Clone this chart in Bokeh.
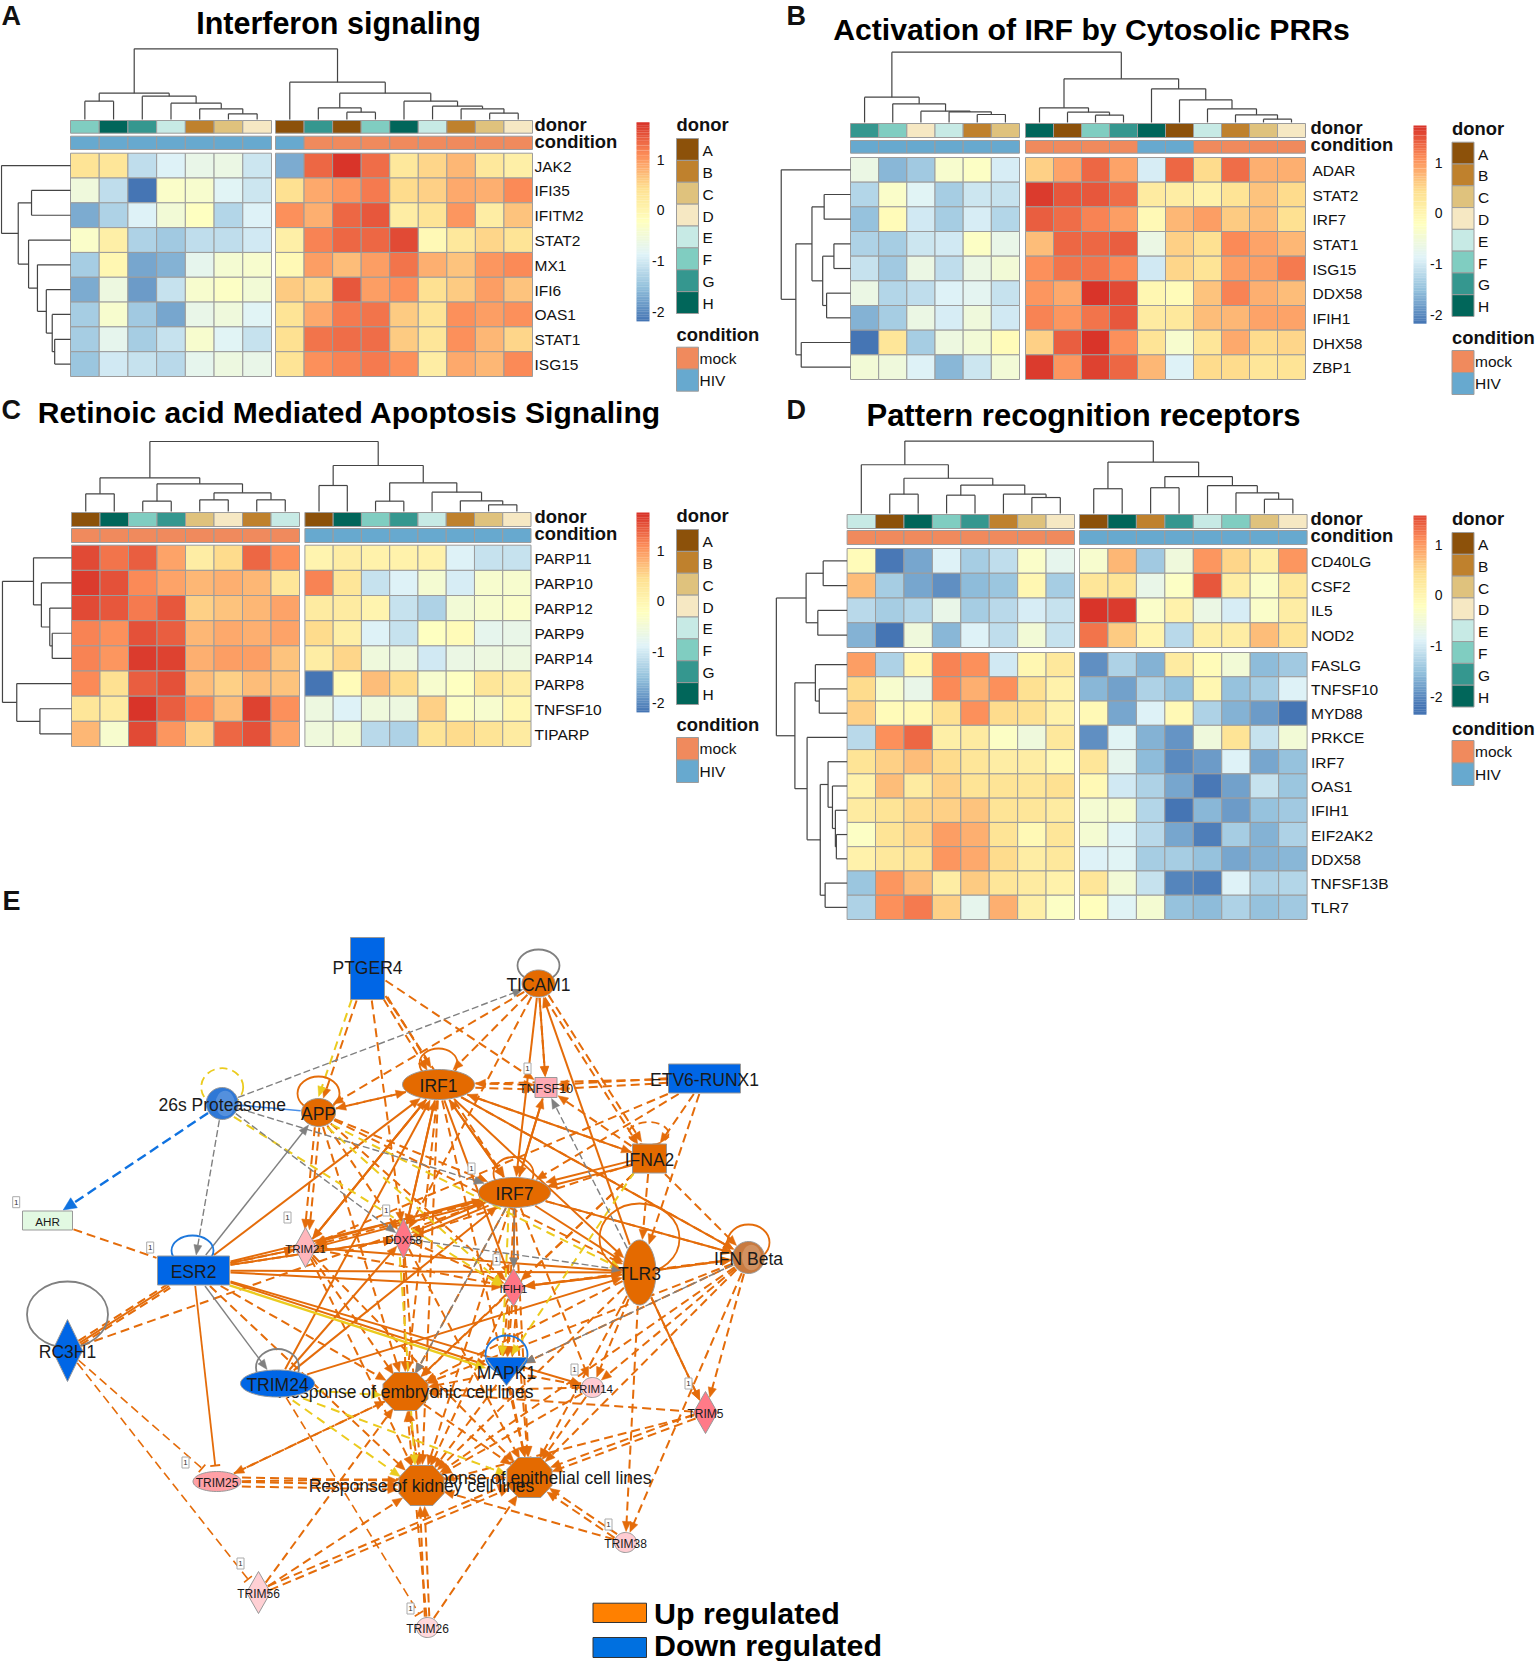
import numpy as np
from collections import Counter
from bokeh.plotting import figure
from bokeh.models import LinearColorMapper, ColumnDataSource
from bokeh.core.properties import value
from bokeh.embed import file_html
from bokeh.resources import INLINE

# ---------------------------------------------------------------- data
donor_levels = ["A", "B", "C", "D", "E", "F", "G", "H"]
donor_colors = ["#8C510A", "#BF812D", "#DFC27D", "#F6E8C3", "#C7EAE5", "#80CDC1", "#35978F", "#01665A"]
cond_levels = ["mock", "HIV"]
cond_colors = ["#F08A5D", "#67A9CF"]
cbar_ticks = [1, 0, -1, -2]

a_title = "Interferon signaling"
a_rows = ["JAK2", "IFI35", "IFITM2", "STAT2", "MX1", "IFI6", "OAS1", "STAT1", "ISG15"]
a_donor = list("FHGEBCD") + list("AGAFHEBCD")
a_cond = ["HIV"] * 8 + ["mock"] * 8
a_vals = [
    [.35, .3, -1.15, -.9, -.7, -.65, -1.05, -1.7, 1.35, 1.7, 1.3, .25, .5, .75, .25, .1],
    [-.55, -1.15, -2.2, -.35, -.4, -.85, -1.05, .4, .85, 1.0, 1.2, .45, .55, .85, .8, 1.1],
    [-1.7, -1.3, -.9, -.5, -.25, -1.25, -.9, 1.05, .8, 1.35, 1.45, .15, .35, 1.0, .15, .65],
    [-.35, .1, -1.3, -1.4, -1.15, -1.15, -1.0, .1, 1.15, 1.35, 1.35, 1.55, -.1, .25, .5, .35],
    [-1.35, -.05, -1.75, -1.65, -.75, -.45, -.4, -.1, .95, .7, .95, 1.25, .8, .65, 1.0, 1.1],
    [-1.7, -.6, -1.85, -1.1, -.4, -.3, -.5, .6, .5, 1.45, .95, 1.05, .4, .6, .95, .65],
    [-1.35, -.4, -1.4, -1.75, -.7, -.55, -.85, .35, .85, 1.2, 1.25, .6, .35, 1.05, .95, 1.05],
    [-1.35, -.75, -1.35, -1.1, -.4, -.85, -1.1, .4, 1.25, 1.3, 1.3, .6, .3, 1.05, .75, .5],
    [-1.45, -1.0, -1.1, -1.2, -.75, -.6, -.7, .35, 1.05, 1.15, 1.2, 1.05, .15, .85, .75, 1.1],
]
a_ctree = (145, (278, (302, 0, 1), (287, 2, (308, 3, (325, 4, (340, 5, 6))))),
           (245, 7, (278, (322, 8, (335, 9, 10)), (302, 11, (317, 12, (325, 13, (338, 14, 15)))))))
a_rtree = (2, 0, (36, (63, 1, 2), (57, 3, (75, 4, (93, 5, (105, 6, (110, 7, 8)))))))

b_title = "Activation of IRF by Cytosolic PRRs"
b_rows = ["ADAR", "STAT2", "IRF7", "STAT1", "ISG15", "DDX58", "IFIH1", "DHX58", "ZBP1"]
b_donor = list("GFDEBC") + list("HAFGHAEBCD")
b_cond = ["HIV"] * 6 + ["mock"] * 4 + ["HIV"] * 2 + ["mock"] * 4
b_vals = [
    [-.65, -1.6, -1.4, -.4, -.3, -.95, .55, .9, 1.35, .9, -.95, 1.35, .45, 1.3, .8, .8],
    [-1.25, -.35, -.85, -1.35, -1.05, -1.1, 1.65, 1.45, 1.45, 1.3, .2, .15, .05, .35, .65, .45],
    [-1.5, -.15, -1.0, -1.35, -.95, -1.25, 1.4, 1.3, 1.15, .95, -.1, .75, .95, .6, .7, .4],
    [-1.3, -1.35, -1.05, -1.0, -.3, -.7, .7, 1.35, 1.35, 1.4, -.65, .55, .4, 1.1, .9, .75],
    [-1.1, -1.4, -.65, -1.15, -.65, -.5, 1.05, 1.25, 1.25, 1.1, -1.0, .5, .35, .95, .95, 1.2],
    [-.65, -1.25, -1.15, -.9, -.8, -1.1, 1.0, .85, 1.7, 1.55, -.05, -.15, .65, 1.15, .8, .7],
    [-1.65, -1.35, -.65, -.95, -.55, -1.0, 1.15, 1.0, 1.25, 1.45, .2, .25, .7, .75, .9, .9],
    [-2.2, .3, -1.35, -.6, -.5, -.15, .55, 1.4, 1.7, 1.05, .35, -.4, .3, .85, .45, .5],
    [-.5, -.55, -.9, -1.6, -1.05, -.5, 1.65, 1.0, 1.6, 1.35, .75, -.9, .45, .45, .3, .35],
]
b_ctree = (155, (290, 0, (310, 1, (332, 2, (334, 3, (342, 4, 5))))),
           (235, (322, 6, (335, 7, (344, 8, 9))), (265, 10, (298, 11, (325, 12, (343, 13, (356, 14, 15)))))))
b_rtree = (22, 0, (52, (85, (110, 1, 2), (107, (130, 3, 4), (115, 5, 6))), (63, 7, 8)))

c_title = "Retinoic acid Mediated Apoptosis Signaling"
c_rows = ["PARP11", "PARP10", "PARP12", "PARP9", "PARP14", "PARP8", "TNFSF10", "TIPARP"]
c_donor = list("AHFGCDBE") + list("AHFGEBCD")
c_cond = ["mock"] * 8 + ["HIV"] * 8
c_vals = [
    [1.55, 1.25, 1.4, .9, .15, .45, 1.35, 1.05, 0, .15, .05, .05, .05, -.9, -1.1, -1.1],
    [1.65, 1.5, 1.1, .9, .75, .8, .75, .3, 1.15, .3, -1.1, -.9, -.45, -.95, -.4, -.4],
    [1.55, 1.45, 1.2, 1.45, .55, .65, .75, .9, .2, .2, .0, -1.1, -1.3, -.5, -.4, -.35],
    [1.15, 1.05, 1.5, 1.4, .75, .85, .8, .9, .45, .1, -.9, -1.1, -.25, -.15, -.75, -.7],
    [1.15, 1.0, 1.65, 1.6, .8, .95, .95, .65, .15, .5, -.55, -.6, -1.0, -.65, -.6, -.6],
    [1.1, .4, 1.4, 1.5, .7, .55, .7, .65, -2.2, -.15, .7, .45, -.4, -.25, .3, .15],
    [.3, .2, 1.7, 1.4, 1.1, .7, 1.6, 1.05, -.6, -.9, -.55, -.6, .55, -.3, -.4, -.05],
    [.75, -.4, 1.55, 1.0, .55, 1.35, 1.5, .9, -.55, -.5, -1.2, -1.3, .35, .45, .35, .2],
]
c_ctree = (138, (247, (295, 0, 1), (265, (317, 2, 3), (292, (313, 4, 5), (313, 6, 7)))),
           (210, (270, 8, 9), (262, (317, 10, 11), (290, 12, (316, 13, (328, 14, 15))))))
c_rtree = (4, (67, 0, (83, 1, (100, 2, (105, 3, 4)))), (33, 5, (80, 6, 7)))

d_title = "Pattern recognition receptors"
d_rows = ["CD40LG", "CSF2", "IL5", "NOD2", "FASLG", "TNFSF10", "MYD88", "PRKCE", "IRF7", "OAS1",
          "IFIH1", "EIF2AK2", "DDX58", "TNFSF13B", "TLR7"]
d_donor = list("EAHFGBCD") + list("AHBGEFCD")
d_cond = ["mock"] * 8 + ["HIV"] * 8
d_vals = [
    [-.15, -2.15, -1.75, -.9, -1.35, -1.15, -.35, -.75, -.4, .75, -1.4, -.55, 1.0, .5, .1, 1.0],
    [.7, -1.35, -1.75, -1.95, -1.55, -1.45, -.05, -1.35, .3, .35, -.7, -.3, 1.45, .15, -.35, .25],
    [-1.2, -1.35, -1.25, -.7, -1.35, -1.2, -.95, -1.1, 1.7, 1.65, -.35, .05, -.65, -.95, -.35, .15],
    [-1.65, -2.2, -.55, -1.6, -.9, -1.15, -.5, -1.1, 1.25, .6, .0, -1.2, .1, .15, .7, .35],
    [.95, -1.3, -.05, 1.15, 1.05, -1.0, -.05, .25, -1.95, -1.3, -1.65, .2, -.15, -.5, -1.55, -1.4],
    [.45, -.4, -.7, 1.1, .8, 1.05, .4, .05, -1.6, -1.8, -1.3, -1.5, -.05, -1.5, -1.35, -.9],
    [.55, -.15, -.1, .4, 1.05, .45, .4, .05, -.1, -1.75, -.9, -.1, -1.3, -1.65, -1.85, -2.2],
    [-1.2, 1.05, 1.35, .1, .2, -.3, -.55, .25, -1.95, -.85, -1.65, -1.9, -.55, .35, -1.1, -.5],
    [.35, .55, .7, .45, .3, .15, .15, -.1, .3, -.75, -1.55, -2.0, -1.85, -.9, -1.75, -1.5],
    [.05, .7, .2, .55, .35, .35, .3, .4, -.1, -1.0, -1.3, -1.75, -2.15, -1.8, -1.1, -1.45],
    [.2, .35, .5, .55, .65, .35, .3, .2, -.45, -.45, -1.25, -2.25, -1.6, -1.85, -1.5, -1.4],
    [-.3, .35, .5, .95, .8, .35, -.1, .3, -.45, -.85, -1.2, -1.75, -2.1, -1.35, -1.65, -1.3],
    [.05, .25, .35, 1.0, .85, .45, .15, .25, -.9, -.85, -1.35, -1.35, -1.5, -1.75, -1.65, -1.6],
    [-1.45, 1.0, .7, .15, .6, .3, .2, .05, .3, -.5, -1.1, -2.05, -2.1, -.9, -1.3, -1.25],
    [-1.3, 1.05, 1.2, .55, -.75, .8, .1, -.3, -.2, -.85, -.45, -1.5, -1.55, -1.3, -1.5, -1.4],
]
d_ctree = (135, (205, 0, (245, (292, 1, 2), (265, (295, 3, 4), (292, 5, (302, 6, 7))))),
           (197, (276, 8, 9), (240, (273, 10, 11), (267, 12, (288, 13, (307, 14, 15))))))
d_rtree = (12, (73, (108, 0, 1), (97, 2, 3)),
           (50, (92, 4, (100, 5, 6)),
            (75, 7, (102, (118, 8, (127, 9, (133, 10, (135, 11, 12)))), (112, 13, 14)))))

# network: node -> kind, fill, text size
node_names = ["PTGER4", "TICAM1", "IRF1", "TNFSF10", "ETV6-RUNX1", "26s Proteasome", "APP", "IFNA2", "IRF7",
              "AHR", "ESR2", "TRIM21", "DDX58", "IFIH1", "TLR3", "IFN Beta", "RC3H1",
              "Response of embryonic cell lines", "TRIM24", "MAPK1", "Response of epithelial cell lines",
              "Response of kidney cell lines", "TRIM25", "TRIM14", "TRIM5", "TRIM38", "TRIM56", "TRIM26"]
EMB, EPI, KID = node_names[17], node_names[20], node_names[21]
PRO, ETV, IFB = "26s Proteasome", "ETV6-RUNX1", "IFN Beta"

edges_solid_orange = [("IRF1", "IRF7"), ("IRF7", "IRF1"), ("IRF1", "DDX58"), ("IRF1", "TRIM21"), ("IRF1", "IFIH1"),
    ("IRF1", "TLR3"), ("IRF1", IFB), ("ESR2", "IRF1"), ("ESR2", "IRF7"), ("ESR2", "DDX58"), ("ESR2", "IFIH1"),
    ("ESR2", "TLR3"), ("ESR2", "MAPK1"), ("ESR2", "TRIM14"), ("TRIM24", "IRF7"), ("TRIM24", "IRF1"), ("TRIM24", "TLR3"),
    ("TRIM24", "DDX58"), ("TICAM1", "IRF7"), ("TICAM1", "TNFSF10"), ("TLR3", "TICAM1"),
    ("TLR3", "IFIH1"), ("IRF7", IFB), ("IRF7", "DDX58"), ("IRF7", "DDX58"), ("IRF7", "TRIM21"), ("IRF7", "TRIM21"), ("IRF7", "IFIH1"),
    ("IFNA2", "IRF7"), ("IFNA2", "IRF7"), ("IRF7", "TLR3"), ("TLR3", IFB), ("TLR3", "TRIM5"), ("IRF7", "TNFSF10"), ("TNFSF10", "IRF7"),
    ("IFIH1", "TLR3"), ("DDX58", "IRF1"), ("TRIM21", "IRF1"), ("IRF1", "IFNA2"), ("ESR2", "TRIM21"), ("TRIM21", "TLR3")]
edges_dash_orange = [("PTGER4", "IRF1"), ("PTGER4", "IRF1"), ("PTGER4", "APP"), ("PTGER4", "DDX58"), ("PTGER4", "TNFSF10"),
    ("PTGER4", "IRF7"), ("TICAM1", "IRF1"), ("TICAM1", "TNFSF10"), ("TICAM1", "DDX58"), ("TICAM1", "IFNA2"), ("TICAM1", "IFNA2"),
    ("TICAM1", "APP"), (ETV, "TNFSF10"), (ETV, "TNFSF10"), (ETV, "IRF1"), (ETV, "IRF7"), (ETV, "IFNA2"), (ETV, "TLR3"), (ETV, "TRIM21"),
    ("APP", "IRF1"), ("IRF1", "APP"), ("APP", "IRF7"), ("APP", "TRIM21"), ("APP", "TRIM21"), ("APP", "DDX58"), ("APP", "IFIH1"),
    ("APP", EMB), ("APP", "TLR3"), ("IFNA2", "IFIH1"), ("IFNA2", "TNFSF10"), ("IFNA2", "IRF1"), ("IFNA2", IFB), ("IFNA2", "TLR3"),
    ("IFNA2", EMB), ("IFNA2", "DDX58"), ("IRF1", "TNFSF10"), ("IRF1", "TNFSF10"), ("IRF1", "TRIM21"), ("IRF1", EMB), ("IRF1", EPI), ("IRF1", KID),
    ("IRF1", IFB), ("IRF7", EMB), ("IRF7", KID), ("IRF7", EPI), ("IRF7", "MAPK1"), ("IRF7", "TRIM21"), ("IRF7", IFB), ("IRF7", "TRIM14"),
    ("DDX58", EMB), ("DDX58", KID), ("DDX58", EPI), ("DDX58", "IFIH1"), ("TRIM21", EMB), ("TRIM21", KID), ("TRIM21", EPI), ("TRIM21", "IFIH1"),
    ("TLR3", EMB), ("TLR3", KID), ("TLR3", EPI), ("TLR3", "TRIM14"), ("TLR3", "TRIM38"), ("TLR3", "TRIM5"), ("TLR3", IFB),
    (IFB, EMB), (IFB, KID), (IFB, EPI), (IFB, "TRIM14"), (IFB, "TRIM5"), (IFB, "IFIH1"), (IFB, "MAPK1"), (IFB, "TRIM38"),
    ("IFIH1", EMB), ("IFIH1", KID), ("IFIH1", EPI), ("IFIH1", "MAPK1"), ("IFIH1", "MAPK1"), ("IFIH1", "MAPK1"),
    ("RC3H1", "IRF7"), ("ESR2", "TRIM21"), ("ESR2", "DDX58"),
    ("TRIM25", KID), ("TRIM25", KID), ("TRIM25", KID), ("TRIM25", EMB), ("TRIM25", EPI), (EMB, "TRIM25"), ("TRIM56", EMB), ("TRIM56", KID), ("TRIM56", EPI), ("TRIM56", EPI),
    ("TRIM26", KID), ("TRIM26", KID), ("TRIM26", EPI), ("TRIM26", EMB), ("TRIM38", KID), ("TRIM38", EPI), ("TRIM38", EPI),
    ("TRIM14", EMB), ("TRIM14", KID), ("TRIM14", EPI), ("TRIM5", EMB), ("TRIM5", EPI), ("TRIM5", EPI), ("TRIM5", KID),
    ("MAPK1", EMB), ("MAPK1", KID), ("MAPK1", EPI), ("MAPK1", "TRIM14"), (EMB, KID), (KID, EMB), (EMB, EPI), ("ESR2", EMB), ("ESR2", KID)]
edges_plain_dash = [("AHR", "ESR2"), ("RC3H1", "ESR2"), ("RC3H1", "ESR2")]
edges_plain_solid = [("ESR2", "RC3H1")]
edges_tee_orange = [("RC3H1", "TRIM25"), ("RC3H1", "TRIM56"), ("TRIM24", "TRIM26")]
edges_tee_solid = [("ESR2", "TRIM25")]
edges_solid_grey = [("ESR2", "APP"), ("ESR2", "TRIM24")]
edges_dash_grey = [(PRO, "TICAM1"), (PRO, "ESR2"), (PRO, "IRF7"), (PRO, "DDX58"), ("TLR3", "TNFSF10"), ("DDX58", "TLR3"),
                   ("IRF7", "IFIH1"), ("IRF7", EMB), (IFB, "MAPK1")]
edges_dash_yellow = [("PTGER4", "APP"), (PRO, "IFIH1"), ("APP", "IFIH1"), ("APP", "TLR3"), ("TRIM24", EMB), ("TRIM24", KID), ("TRIM24", EPI),
                     ("IFNA2", "MAPK1"), ("DDX58", KID), ("IRF7", "MAPK1")]
edges_solid_yellow = [("ESR2", "MAPK1")]
edges_dash_blue = [(PRO, "AHR")]
edges_plain_blue = [(PRO, "APP")]

legend_net = ["Up regulated", "Down regulated"]
legend_net_colors = ["#FF8000", "#0070E0"]

# ---------------------------------------------------------------- layout
X0, Y0, XW, YH = 0, 0, 1536, 1661
p = figure(width=XW, height=YH, x_range=(X0, X0 + XW), y_range=(Y0 + YH, Y0), toolbar_location=None,
           output_backend="svg", x_axis_type=None, y_axis_type=None, min_border=0)
p.grid.visible = False
p.outline_line_color = None
p.background_fill_color = "white"

FONT = value("Liberation Sans")
MIN_X = 1

stops = np.array(["#4575B4", "#91BFDB", "#E0F3F8", "#FFFFBF", "#FEE090", "#FC8D59", "#D73027"])


def hex2rgb(h):
    return np.array([int(h[i:i + 2], 16) for i in (1, 3, 5)], float)


st = np.array([hex2rgb(s) for s in stops])
tt = np.linspace(0, 6, 256)
palette = ["#%02X%02X%02X" % tuple(int(round(np.interp(t, np.arange(7), st[:, k]))) for k in range(3)) for t in tt]
VMIN, VMAX = -2.19, 1.735
mapper = LinearColorMapper(palette=palette, low=VMIN, high=VMAX)
GRID = "#9C9C9C"


def txt(x, y, s, size, bold=False, align="left", color="#111111"):
    p.text([x], [y], text=[s], text_font=FONT, text_font_size=f"{size}px",
           text_font_style="bold" if bold else "normal", text_align=align, text_baseline="middle", text_color=color)


def tree_segments(tree, leaf_pos, base, to_px, swap=False):
    xs0, ys0, xs1, ys1 = [], [], [], []

    def walk(n):
        if isinstance(n, int):
            return leaf_pos[n], base
        h, l, r = n
        h = to_px(h)
        a, ah = walk(l)
        b, bh = walk(r)
        for seg in ((a, h, b, h), (a, ah, a, h), (b, bh, b, h)):
            xs0.append(seg[0]); ys0.append(seg[1]); xs1.append(seg[2]); ys1.append(seg[3])
        return (a + b) / 2, h

    walk(tree)
    if swap:
        return ys0, xs0, ys1, xs1
    return xs0, ys0, xs1, ys1


def panel(letter, lxy, title, txy, tsize, rows, donor, cond, vals, ctree, rtree, L):
    txt(lxy[0], lxy[1], letter, 27, True)
    txt(txy[0], txy[1], title, tsize, True, "center", "#000000")
    vals = np.array(vals)
    edges = []
    for (a, b, n) in L["blocks"]:
        e = np.linspace(a, b, n + 1)
        edges += [(e[i], e[i + 1]) for i in range(n)]
    cx = [(a + b) / 2 for a, b in edges]
    redges = []
    for (a, b, n) in L["rblocks"]:
        e = np.linspace(a, b, n + 1)
        redges += [(e[i], e[i + 1]) for i in range(n)]
    ry = [(a + b) / 2 for a, b in redges]
    src = dict(l=[], r=[], t=[], b=[], v=[])
    for i, (t, bm) in enumerate(redges):
        for j, (l, r) in enumerate(edges):
            src["l"].append(l); src["r"].append(r); src["t"].append(t); src["b"].append(bm)
            src["v"].append(vals[i, j])
    p.quad(left="l", right="r", top="t", bottom="b", source=ColumnDataSource(src),
           fill_color={"field": "v", "transform": mapper}, line_color=GRID, line_width=1)
    p.quad(left=[a for a, _ in edges], right=[b for _, b in edges], top=L["donor"][0], bottom=L["donor"][1],
           fill_color=[donor_colors[donor_levels.index(d)] for d in donor], line_color=GRID, line_width=1)
    p.quad(left=[a for a, _ in edges], right=[b for _, b in edges], top=L["cond"][0], bottom=L["cond"][1],
           fill_color=[cond_colors[cond_levels.index(d)] for d in cond], line_color=GRID, line_width=1)
    s = tree_segments(ctree, cx, L["donor"][0] - 1, lambda z: L["y0"] + z / L["fy"])
    p.segment(*s, line_color="#444444", line_width=1.2)
    s = tree_segments(rtree, ry, L["blocks"][0][0], lambda z: max(L["x0"] + z / L["fx"], MIN_X), swap=True)
    p.segment(*s, line_color="#444444", line_width=1.2)
    for name, y in zip(rows, ry):
        txt(L["rowx"], y + 0.5, name, 15.5)
    txt(L["annx"], L["ann_d"], "donor", 18.4, True)
    txt(L["annx"], L["ann_c"], "condition", 18.4, True)
    bx0, bx1, by0, by1 = L["bar"]
    y1, y_2 = L["tick1"], L["tick_2"]
    unit = (y_2 - y1) / 3.0
    ys = np.linspace(by0, by1, 121)
    mids = (ys[:-1] + ys[1:]) / 2
    p.quad(left=bx0, right=bx1, top=ys[:-1], bottom=ys[1:] + 0.2,
           fill_color=[palette[int(np.clip((1 - (m - y1) / unit - VMIN) / (VMAX - VMIN), 0, 1) * 255)] for m in mids],
           line_color=None)
    for t in cbar_ticks:
        txt(bx1 + L.get("tick_dx", 16), y1 + (1 - t) * unit, str(t), 14, False, "right")
    lx, ly0, ly1, lw = L["leg"]
    txt(lx, L["dtitle"], "donor", 18.4, True)
    ss = np.linspace(ly0, ly1, 9)
    p.quad(left=lx, right=lx + lw, top=ss[:-1], bottom=ss[1:], fill_color=donor_colors, line_color=GRID, line_width=1)
    for nm, a, b in zip(donor_levels, ss[:-1], ss[1:]):
        txt(lx + lw + 4, (a + b) / 2 + 1, nm, 15.5)
    txt(lx, L["ctitle"], "condition", 18.4, True)
    c0, c1 = L["cleg"]
    ss = np.linspace(c0, c1, 3)
    p.quad(left=lx, right=lx + lw, top=ss[:-1], bottom=ss[1:], fill_color=cond_colors, line_color=GRID, line_width=1)
    for nm, a, b in zip(cond_levels, ss[:-1], ss[1:]):
        txt(lx + lw + 1, (a + b) / 2, nm, 15.5)


panel("A", (1, 15), a_title, (338, 22), 30.5, a_rows, a_donor, a_cond, a_vals, a_ctree, a_rtree, dict(
    blocks=[(70, 271, 7), (275, 532, 9)], rblocks=[(152.7, 376, 9)], donor=(120, 132.7), cond=(135.7, 149),
    ann_d=124, ann_c=140.5,
    x0=0, fx=2.03, y0=0, fy=3, rowx=534, annx=534, bar=(636, 649, 121.7, 320.7), tick1=159, tick_2=311, tick_dx=15,
    leg=(676, 138, 313, 22), dtitle=124, ctitle=333.5, cleg=(346.7, 390.7)))
panel("B", (786, 15), b_title, (1091, 29), 30.2, b_rows, b_donor, b_cond, b_vals, b_ctree, b_rtree, dict(
    blocks=[(850, 1019, 6), (1025, 1305, 10)], rblocks=[(157, 379, 9)], donor=(123, 137), cond=(140, 152.7),
    ann_d=127, ann_c=143.5,
    x0=770, fx=2.05, y0=0, fy=3, rowx=1312, annx=1310, bar=(1413, 1426, 125, 323), tick1=162, tick_2=314,
    leg=(1451.5, 141.7, 316, 22), dtitle=128, ctitle=337, cleg=(350, 394)))
panel("C", (1, 409), c_title, (349, 412), 30, c_rows, c_donor, c_cond, c_vals, c_ctree, c_rtree, dict(
    blocks=[(71, 299, 8), (304.4, 530.5, 8)], rblocks=[(544.7, 746, 8)], donor=(512, 526), cond=(528, 542),
    ann_d=515.5, ann_c=532.5,
    x0=0, fx=2.03, y0=395, fy=3, rowx=534, annx=534, bar=(636, 649, 512, 711.7), tick1=550, tick_2=702, tick_dx=15,
    leg=(676, 529, 704, 22), dtitle=515, ctitle=724, cleg=(737, 782)))
panel("D", (786, 409), d_title, (1083, 415), 31, d_rows, d_donor, d_cond, d_vals, d_ctree, d_rtree, dict(
    blocks=[(846.6, 1074, 8), (1079, 1306.6, 8)], rblocks=[(548, 647, 4), (652, 919, 11)], donor=(514, 528), cond=(530, 544),
    ann_d=518, ann_c=535,
    x0=770, fx=2.05, y0=395, fy=2.96, rowx=1310.5, annx=1310, bar=(1413, 1426, 515, 714), tick1=544, tick_2=696,
    leg=(1451.5, 532, 706.5, 22), dtitle=518, ctitle=728, cleg=(740, 785)))

# ---------------------------------------------------------------- network layout
N = {
    "PTGER4": ("rect", 367, 968, 34, 62, "#0066E6", 17.5),
    "TICAM1": ("ell", 538, 983, 33, 27, "#E46A00", 17.5),
    "IRF1": ("ell", 438, 1084, 72, 30, "#E46A00", 17.5),
    "TNFSF10": ("rect", 545.5, 1087, 22, 20, "#FFAAB4", 12.5),
    ETV: ("rect", 704, 1078, 72, 29, "#0066E6", 17.5),
    PRO: ("ell", 221.7, 1103, 32, 32, "#2F78D6", 17.5),
    "APP": ("ell", 318, 1112, 34, 28, "#E46A00", 17.5),
    "IFNA2": ("rect", 649, 1158, 34, 29, "#E46A00", 17.5),
    "IRF7": ("ell", 514, 1192, 72, 30, "#E46A00", 17.5),
    "AHR": ("rect", 47, 1220, 50, 19, "#E2F9E2", 11.7),
    "ESR2": ("rect", 193, 1270, 72, 29, "#0066E6", 17.5),
    "TRIM21": ("dia", 305, 1247, 22, 40, "#FFB6BC", 11.4),
    "DDX58": ("dia", 403, 1238, 19, 40, "#FF7585", 11.4),
    "IFIH1": ("dia", 513, 1287, 22, 38, "#FF7585", 11.4),
    "TLR3": ("ell", 639, 1272, 33, 65, "#E46A00", 17.5),
    IFB: ("ell", 748, 1257, 32, 32, "#C87A3F", 17.5),
    "RC3H1": ("dia", 67, 1350, 30, 62, "#0066E6", 17.5),
    EMB: ("hex", 405, 1391, 45, 38, "#E46A00", 17.5),
    "TRIM24": ("ell", 277, 1383, 74, 27, "#0066E6", 17.5),
    "MAPK1": ("tri", 506, 1371, 42, 28, "#0066E6", 17.5),
    EPI: ("hex", 529, 1477, 45, 40, "#E46A00", 17.5),
    KID: ("hex", 421, 1485, 45, 40, "#E46A00", 17.5),
    "TRIM25": ("ell", 216.5, 1481, 48, 20, "#FFA0A6", 12),
    "TRIM14": ("ell", 592, 1387, 22, 20, "#FFCCD2", 11.5),
    "TRIM5": ("dia", 705, 1412, 24, 42, "#FF7A88", 12),
    "TRIM38": ("ell", 625, 1542, 22, 20, "#FFCCD2", 12),
    "TRIM56": ("dia", 258, 1592, 24, 42, "#FFD0D4", 12),
    "TRIM26": ("ell", 427, 1627, 22, 20, "#FFD8DC", 12),
}
loops = [  # x, y, w, h, colour, dash
    (221.7, 1086.7, 42, 38, "#EBCB1E", "8 5"), (318, 1093, 42, 34, "#E46C0A", "solid"),
    (192, 1250, 42, 30, "#1E78DC", "solid"), (538, 965, 42, 32, "#808080", "solid"),
    (438, 1063, 38, 30, "#E46C0A", "solid"), (513, 1173, 40, 33, "#E46C0A", "solid"),
    (639, 1238, 80, 70, "#E46C0A", "solid"), (748, 1242, 42, 36, "#E46C0A", "solid"),
    (648, 1133, 40, 23, "#E46C0A", "8 5"), (67, 1314, 81, 66, "#808080", "solid"),
    (277, 1367, 43, 37, "#808080", "solid"), (506, 1354, 42, 38, "#1E78DC", "solid"),
]
one_boxes = [(15.7, 1201.7), (149.7, 1247), (287, 1217), (385.7, 1210), (527, 1068), (471, 1168), (496, 1259),
             (574, 1369), (688, 1383), (185, 1462), (608, 1524), (240, 1563), (410, 1608)]


def endpoint(name, ox, oy):
    kind, x, y, w, h = N[name][:5]
    dx, dy = ox - x, oy - y
    a, b = w / 2 + 1, h / 2 + 1
    if kind == "rect":
        t = min(a / max(abs(dx), 1e-6), b / max(abs(dy), 1e-6))
    elif kind == "dia":
        t = 1 / (abs(dx) / a + abs(dy) / b)
    else:
        t = 1 / np.hypot(dx / a, dy / b)
    return x + dx * t, y + dy * t


def draw_edges(edges, color, width, dash, head=(10, 4.2), tee=False, shift=0.0):
    seen = Counter()
    total = Counter(edges)
    x0, y0, x1, y1, hx, hy, tx0, ty0, tx1, ty1 = [], [], [], [], [], [], [], [], [], []
    for e in edges:
        s, d = e
        sx, sy = N[s][1], N[s][2]
        ex, ey = N[d][1], N[d][2]
        L = np.hypot(ex - sx, ey - sy)
        ux, uy = (ex - sx) / L, (ey - sy) / L
        off = (seen[e] - (total[e] - 1) / 2) * 4.5 + shift
        seen[e] += 1
        nx, ny = -uy * off, ux * off
        ax, ay = endpoint(s, ex, ey)
        bx, by = endpoint(d, sx, sy)
        ax += nx; ay += ny; bx += nx; by += ny
        x0.append(ax); y0.append(ay)
        if tee:
            x1.append(bx - ux * 5); y1.append(by - uy * 5)
            tx0.append(bx - ux * 5 - uy * 5); ty0.append(by - uy * 5 + ux * 5)
            tx1.append(bx - ux * 5 + uy * 5); ty1.append(by - uy * 5 - ux * 5)
        elif head is None:
            x1.append(bx); y1.append(by)
        else:
            x1.append(bx - ux * head[0] * .7); y1.append(by - uy * head[0] * .7)
            hx.append([bx, bx - ux * head[0] - uy * head[1], bx - ux * head[0] + uy * head[1]])
            hy.append([by, by - uy * head[0] + ux * head[1], by - uy * head[0] - ux * head[1]])
    p.segment(x0, y0, x1, y1, line_color=color, line_width=width, line_dash=dash)
    if tee:
        p.segment(tx0, ty0, tx1, ty1, line_color=color, line_width=width)
    elif head is not None:
        p.patches(hx, hy, fill_color=color, line_color=color, line_width=0.5)


draw_edges(edges_dash_orange, "#E46C0A", 2, "9 5")
draw_edges(edges_solid_orange, "#E46C0A", 2, "solid")
draw_edges(edges_plain_dash, "#E46C0A", 2, "9 5", head=None)
draw_edges(edges_plain_solid, "#E46C0A", 2, "solid", head=None)
draw_edges(edges_tee_orange, "#E46C0A", 1.6, "9 5", tee=True)
draw_edges(edges_tee_solid, "#E46C0A", 1.8, "solid", tee=True)
draw_edges(edges_dash_yellow, "#EBCB1E", 2, "9 6", shift=5)
draw_edges(edges_solid_yellow, "#EBCB1E", 2.4, "solid", shift=3)
draw_edges(edges_dash_grey, "#808080", 1.4, "7 3", head=(10, 4))
draw_edges(edges_solid_grey, "#808080", 1.4, "solid", head=(10, 4))
draw_edges(edges_dash_blue, "#0F72E0", 2.4, "10 5", head=(13, 6))
draw_edges(edges_plain_blue, "#4A90E8", 1.6, "solid", head=None)

for (x, y, w, h, c, d) in loops:
    p.ellipse(x=[x], y=[y], width=[w], height=[h], fill_alpha=0, line_color=c, line_width=1.8, line_dash=d)


def outline(kind, x, y, w, h):
    if kind == "rect":
        xs, ys = [-.5, .5, .5, -.5], [-.5, -.5, .5, .5]
    elif kind == "dia":
        xs, ys = [0, .5, 0, -.5], [-.5, 0, .5, 0]
    elif kind == "hex":
        xs, ys = [-.25, .25, .5, .5, .25, -.25, -.5, -.5], [-.5, -.5, -.2, .2, .5, .5, .2, -.2]
    elif kind == "tri":
        xs, ys = [-.5, .5, 0], [-.5, -.5, .5]
    else:
        th = np.linspace(0, 2 * np.pi, 60)
        xs, ys = .5 * np.cos(th), .5 * np.sin(th)
    return x + np.array(xs) * w, y + np.array(ys) * h


for nm in node_names:
    kind, x, y, w, h, col, fs = N[nm]
    ox, oy = outline(kind, x, y, w, h)
    p.patch(ox, oy, fill_color=col, line_color="#999999", line_width=1)
    if nm in (PRO, IFB):
        p.ellipse(x=[x + 3], y=[y], width=[w * .6], height=[h * .8], fill_color="#FFFFFF", fill_alpha=.18, line_color=None)
    dy = -1 if nm == "PTGER4" else (0 if kind == "hex" else 1)
    txt(x, y + dy, nm, fs, False, "center", "#1A1A1A")

p.quad(left=[b[0] - 3.5 for b in one_boxes], right=[b[0] + 3.5 for b in one_boxes],
       top=[b[1] - 5.5 for b in one_boxes], bottom=[b[1] + 5.5 for b in one_boxes],
       fill_color="white", line_color="#AAAAAA", line_width=1)
p.text([b[0] for b in one_boxes], [b[1] for b in one_boxes], text=["1"] * len(one_boxes), text_font=FONT,
       text_font_size="8px", text_align="center", text_baseline="middle", text_color="#333333")

txt(2, 900, "E", 27, True)
for lab, col, y0, y1, yt in zip(legend_net, legend_net_colors, (1602.7, 1637), (1622, 1657), (1612, 1644)):
    p.quad(left=592.5, right=646, top=y0, bottom=y1, fill_color=col, line_color="#333333", line_width=1)
    txt(653.5, yt, lab, 30.4, True, "left", "#000000")

open("out.html", "w").write(file_html(p, INLINE))
